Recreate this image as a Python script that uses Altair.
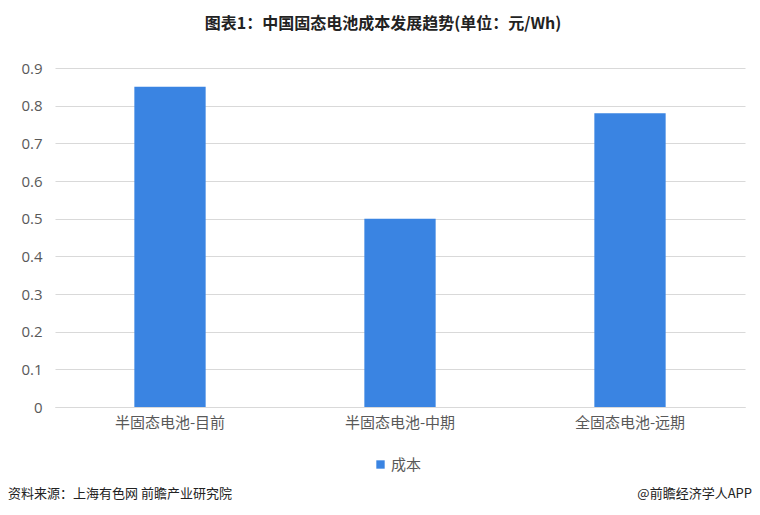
import altair as alt
import pandas as pd

categories = ["半固态电池-目前", "半固态电池-中期", "全固态电池-远期"]
values = [0.85, 0.50, 0.78]
series_name = "成本"
y_ticks = [0, 0.1, 0.2, 0.3, 0.4, 0.5, 0.6, 0.7, 0.8, 0.9]
title_text = "图表1：中国固态电池成本发展趋势(单位：元/Wh)"
source_text = "资料来源：上海有色网 前瞻产业研究院"
brand_text = "@前瞻经济学人APP"

df = pd.DataFrame({"cat": categories, "val": values, "series": [series_name] * len(categories)})

FONT = "Noto Sans CJK SC"
GREY = "#595959"

bars = alt.Chart(df).mark_bar(color="#3a84e2").encode(
    x=alt.X("cat:N", sort=categories,
            scale=alt.Scale(paddingInner=0.69, paddingOuter=0.345),
            axis=alt.Axis(title=None, labelAngle=0, labelFontSize=15, labelColor=GREY,
                          labelFont=FONT, ticks=False, domain=True, domainColor="#d9d9d9",
                          grid=False, labelPadding=8)),
    y=alt.Y("val:Q", scale=alt.Scale(domain=[0, 0.9], nice=False),
            axis=alt.Axis(title=None, values=y_ticks, format=".1~f", labelFontSize=15,
                          labelColor=GREY, labelFont="Open Sans", ticks=False, domain=False,
                          gridColor="#d9d9d9", labelPadding=13)),
    color=alt.Color("series:N", scale=alt.Scale(range=["#3a84e2"]),
                    legend=alt.Legend(title=None, orient="none", legendX=318, legendY=389,
                                      symbolType="square", symbolSize=70, labelFontSize=15,
                                      labelColor=GREY, labelFont=FONT, symbolStrokeWidth=0,
                                      labelOffset=3)),
)

foot = pd.DataFrame({"t": [source_text]})
src = alt.Chart(foot).mark_text(align="left", baseline="middle", fontSize=13, font=FONT,
                                color="#222222").encode(
    x=alt.value(-47), y=alt.value(426), text="t:N")
foot2 = pd.DataFrame({"t": [brand_text]})
brand = alt.Chart(foot2).mark_text(align="right", baseline="middle", fontSize=13, font=FONT,
                                   color="#222222").encode(
    x=alt.value(697), y=alt.value(426), text="t:N")

chart = alt.layer(bars, src, brand).properties(
    width=690, height=339,
    background="white",
    padding={"left": 47, "top": 60, "right": 7, "bottom": 100},
    autosize=alt.AutoSizeParams(type="none"),
    title=alt.TitleParams(title_text, fontSize=16, fontWeight="bold", font=FONT,
                          color="#222222", anchor="middle", offset=29, dx=-17),
).configure_view(stroke=None, strokeWidth=0).configure_axisX(grid=False)

chart.save("out.html", embed_options={"renderer": "svg", "actions": False})
